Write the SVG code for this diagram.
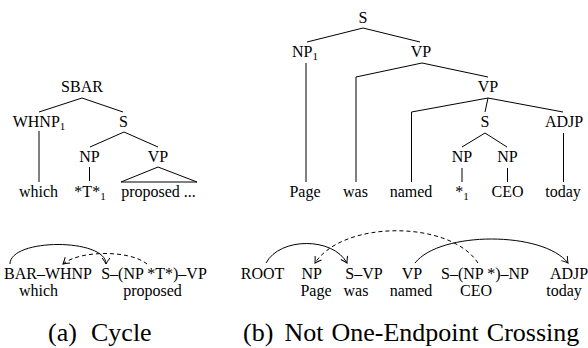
<svg xmlns="http://www.w3.org/2000/svg" width="588" height="348" viewBox="0 0 588 348">
<defs>
<marker id="ah" viewBox="-7 -5 9 10" markerWidth="9" markerHeight="10" refX="0" refY="0" orient="auto" markerUnits="userSpaceOnUse">
<path d="M-6,-3.8 Q-1.8,-0.9 0,0 Q-1.8,0.9 -6,3.8" fill="none" stroke="#000" stroke-width="1"/>
</marker>
</defs>
<rect width="588" height="348" fill="#fff"/>

<g id="connectors" stroke="#000" stroke-width="1" fill="none">
<polyline points="39,112 82,98 123,112"/>
<line x1="39" y1="131" x2="39" y2="182"/>
<polyline points="90,147 124,132 158,147"/>
<line x1="89.5" y1="167" x2="89.5" y2="181"/>
<polygon points="158,167 121,182 197,182"/>
<polyline points="307,42 363,28 420,42"/>
<line x1="306" y1="63" x2="306" y2="182"/>
<polyline points="356,182 356,77 422,63 488,77"/>
<polyline points="411.5,182 411.5,112 488,98 563,112"/>
<line x1="488" y1="98" x2="485" y2="112"/>
<polyline points="462,147 485,133 507,147"/>
<line x1="462" y1="168" x2="462" y2="182"/>
<line x1="507.5" y1="168" x2="507.5" y2="182"/>
<line x1="563.5" y1="133" x2="563.5" y2="182"/>
<path d="M10,264 C10,238 106,238 106,264" marker-end="url(#ah)"/>
<path d="M147,264 C130,250 80,250 63,264" stroke-dasharray="4,3" marker-end="url(#ah)"/>
<path d="M266,263 C280,237 333,237 347,263" marker-end="url(#ah)"/>
<path d="M478,263 C450,220 343,220 315,263" stroke-dasharray="4,3" marker-end="url(#ah)"/>
<path d="M415,263 C440,231 543,231 568,263" marker-end="url(#ah)"/>
</g>

<g id="tree-a" font-family="Liberation Serif" font-size="16" text-anchor="middle">
<g id="a-sbar"><text font-family="Liberation Serif" x="82" y="92">SBAR</text></g>
<g id="a-whnp"><text font-family="Liberation Serif" x="39" y="127">WHNP<tspan font-size="11" dy="3">1</tspan></text></g>
<g id="a-s"><text font-family="Liberation Serif" x="123.5" y="127">S</text></g>
<g id="a-np"><text font-family="Liberation Serif" x="89.5" y="162">NP</text></g>
<g id="a-vp"><text font-family="Liberation Serif" x="158" y="162">VP</text></g>
<g id="a-which"><text font-family="Liberation Serif" x="38.5" y="197">which</text></g>
<g id="a-trace"><text font-family="Liberation Serif" x="90" y="197">*T*<tspan font-size="11" dy="3">1</tspan></text></g>
<g id="a-proposed"><text font-family="Liberation Serif" x="158.5" y="197">proposed ...</text></g>
</g>

<g id="tree-b" font-family="Liberation Serif" font-size="16" text-anchor="middle">
<g id="b-s"><text font-family="Liberation Serif" x="363" y="23">S</text></g>
<g id="b-np1"><text font-family="Liberation Serif" x="305" y="57">NP<tspan font-size="11" dy="3">1</tspan></text></g>
<g id="b-vp1"><text font-family="Liberation Serif" x="421" y="57">VP</text></g>
<g id="b-vp2"><text font-family="Liberation Serif" x="488" y="92">VP</text></g>
<g id="b-s2"><text font-family="Liberation Serif" x="485" y="127">S</text></g>
<g id="b-adjp"><text font-family="Liberation Serif" x="564" y="127">ADJP</text></g>
<g id="b-np2"><text font-family="Liberation Serif" x="462" y="162">NP</text></g>
<g id="b-np3"><text font-family="Liberation Serif" x="507.5" y="162">NP</text></g>
<g id="b-page"><text font-family="Liberation Serif" x="305" y="197">Page</text></g>
<g id="b-was"><text font-family="Liberation Serif" x="355.5" y="197">was</text></g>
<g id="b-named"><text font-family="Liberation Serif" x="411" y="197">named</text></g>
<g id="b-star"><text font-family="Liberation Serif" x="462" y="197">*<tspan font-size="11" dy="3">1</tspan></text></g>
<g id="b-ceo"><text font-family="Liberation Serif" x="507.5" y="197">CEO</text></g>
<g id="b-today"><text font-family="Liberation Serif" x="563" y="197">today</text></g>
</g>

<g id="dep-a" font-family="Liberation Serif" font-size="16" text-anchor="middle">
<g id="da-sbar"><text font-family="Liberation Serif" text-anchor="end" x="92" y="278.5">BAR&#8211;WHNP</text><text font-family="Liberation Serif" x="38.5" y="296">which</text></g>
<g id="da-s"><text font-family="Liberation Serif" x="154" y="278.5">S&#8211;(NP *T*)&#8211;VP</text><text font-family="Liberation Serif" x="152.5" y="296">proposed</text></g>
</g>

<g id="dep-b" font-family="Liberation Serif" font-size="16" text-anchor="middle">
<g id="db-root"><text font-family="Liberation Serif" x="262.5" y="278.5">ROOT</text></g>
<g id="db-np"><text font-family="Liberation Serif" x="311.7" y="278.5">NP</text><text font-family="Liberation Serif" x="316" y="296">Page</text></g>
<g id="db-svp"><text font-family="Liberation Serif" x="364" y="278.5">S&#8211;VP</text><text font-family="Liberation Serif" x="356" y="296">was</text></g>
<g id="db-vp"><text font-family="Liberation Serif" x="412" y="278.5">VP</text><text font-family="Liberation Serif" x="411" y="296">named</text></g>
<g id="db-snp"><text font-family="Liberation Serif" x="485" y="278.5">S&#8211;(NP *)&#8211;NP</text><text font-family="Liberation Serif" x="476" y="296">CEO</text></g>
<g id="db-adjp"><text font-family="Liberation Serif" x="569" y="278.5">ADJP</text><text font-family="Liberation Serif" x="564" y="296">today</text></g>
</g>

<g id="captions" font-family="Liberation Serif" font-size="26">
<text font-family="Liberation Serif" x="48" y="341">(a)</text>
<text font-family="Liberation Serif" x="91" y="341">Cycle</text>
<text font-family="Liberation Serif" x="243" y="341">(b)</text>
<text font-family="Liberation Serif" x="284.5" y="341">Not</text>
<text font-family="Liberation Serif" x="331.5" y="341">One-Endpoint</text>
<text font-family="Liberation Serif" x="486.8" y="341">Crossing</text>
</g>
</svg>
